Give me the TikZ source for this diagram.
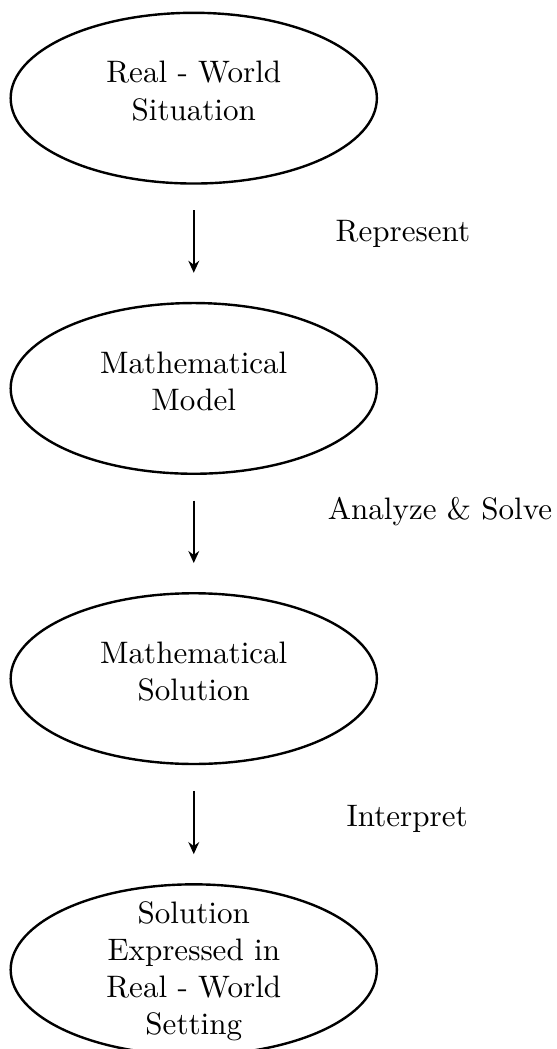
\documentclass[tikz,border=0pt]{standalone}
\usetikzlibrary{shapes.geometric, arrows.meta}
\begin{document}
\begin{tikzpicture}[font=\fontsize{10.35pt}{12.4pt}\selectfont,
    oval/.style={draw, ellipse, thick, minimum width=4.29cm, minimum height=2.0cm,
                 inner sep=-0.4cm, text depth=5pt, align=center},
    flow/.style={thick, -{Stealth[length=4pt, width=3.6pt]},
                 shorten <=0.3cm, shorten >=0.34cm}]
    \useasboundingbox (0,0) rectangle (6.514,-12.289);
    \node[oval] (real)  at (2.27, -1.15)  {Real - World\\Situation};
    \node[oval] (model) at (2.27, -4.55)  {Mathematical\\Model};
    \node[oval] (sol)   at (2.27, -7.95)  {Mathematical\\Solution};
    \node[oval, text depth=1pt] (exp) at (2.27, -11.36) {Solution\\Expressed in\\Real - World\\Setting};
    \node (rep) at (4.72,  -2.74) {Represent};
    \node (ana) at (5.155, -5.99) {Analyze \& Solve};
    \node (int) at (4.77,  -9.59) {Interpret};
    \draw[flow] (real.south)  -- (model.north);
    \draw[flow] (model.south) -- (sol.north);
    \draw[flow] (sol.south)   -- (exp.north);
\end{tikzpicture}
\end{document}
